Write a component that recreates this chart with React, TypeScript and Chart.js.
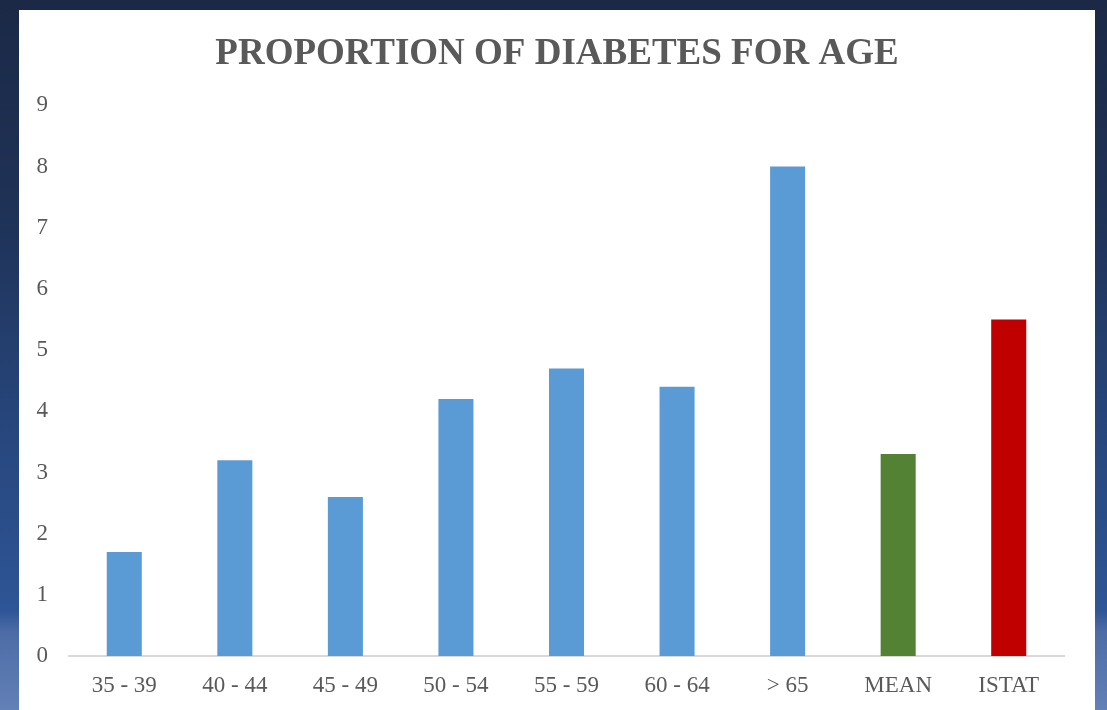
import React, { useEffect, useRef } from "react";
import { Chart, registerables } from "chart.js";

Chart.register(...registerables);

const categories = ["35 - 39", "40 - 44", "45 - 49", "50 - 54", "55 - 59", "60 - 64", "> 65", "MEAN", "ISTAT"];
const values = [1.7, 3.2, 2.6, 4.2, 4.7, 4.4, 8.0, 3.3, 5.5];
const barColors = ["#5b9bd5", "#5b9bd5", "#5b9bd5", "#5b9bd5", "#5b9bd5", "#5b9bd5", "#5b9bd5", "#548235", "#c00000"];
const yTicks = [0, 1, 2, 3, 4, 5, 6, 7, 8, 9];
const titleText = "PROPORTION OF DIABETES FOR AGE";

export default function App() {
  const ref = useRef<HTMLCanvasElement | null>(null);

  useEffect(() => {
    document.body.style.margin = "0";
    const canvas = ref.current;
    if (!canvas) return;
    const chart = new Chart(canvas, {
      type: "bar",
      data: {
        labels: categories,
        datasets: [
          {
            data: values,
            backgroundColor: barColors,
            borderWidth: 0,
            barPercentage: 0.5,
            categoryPercentage: 0.634,
          },
        ],
      },
      options: {
        animation: false,
        responsive: false,
        maintainAspectRatio: false,
        layout: { padding: { left: 0, right: 0, top: 0, bottom: 0 } },
        plugins: {
          legend: { display: false },
          tooltip: { enabled: false },
          title: {
            display: true,
            text: titleText,
            color: "#595959",
            font: { family: "'Liberation Serif', 'Times New Roman', serif", size: 37, weight: "bold" },
            padding: { top: 22, bottom: 29 },
          },
        },
        scales: {
          x: {
            grid: { display: false, drawTicks: false },
            border: { display: true, color: "#d9d9d9", width: 2 },
            ticks: {
              color: "#595959",
              font: { family: "'Liberation Serif', 'Times New Roman', serif", size: 23 },
              padding: 16,
              maxRotation: 0,
              autoSkip: false,
            },
            afterFit: (scale: any) => {
              scale.height = 54;
            },
          },
          y: {
            min: 0,
            max: 9,
            grid: { display: false, drawTicks: false },
            border: { display: false },
            afterBuildTicks: (scale: any) => {
              scale.ticks = yTicks.map((v) => ({ value: v }));
            },
            ticks: {
              color: "#595959",
              font: { family: "'Liberation Serif', 'Times New Roman', serif", size: 23 },
              padding: 21,
            },
            afterFit: (scale: any) => {
              scale.width = 50;
            },
          },
          yRight: {
            type: "linear",
            position: "right",
            display: true,
            min: 0,
            max: 9,
            grid: { display: false, drawTicks: false },
            border: { display: false },
            ticks: { display: false },
            afterFit: (scale: any) => {
              scale.width = 31;
            },
          },
        },
      },
    });
    return () => chart.destroy();
  }, []);

  return (
    <div
      style={{
        position: "fixed",
        left: 0,
        top: 0,
        width: 1107,
        height: 710,
        background:
          "linear-gradient(to bottom, #1b2946 0%, #1f3257 30%, #27467c 60%, #2e5596 86%, #4d6ca6 89%, #6380b7 100%)",
        overflow: "hidden",
      }}
    >
      <div style={{ position: "absolute", left: 19, top: 10, width: 1076, height: 700, background: "#ffffff" }}>
        <canvas ref={ref} width={1076} height={700} style={{ display: "block", width: 1076, height: 700 }} />
      </div>
    </div>
  );
}
